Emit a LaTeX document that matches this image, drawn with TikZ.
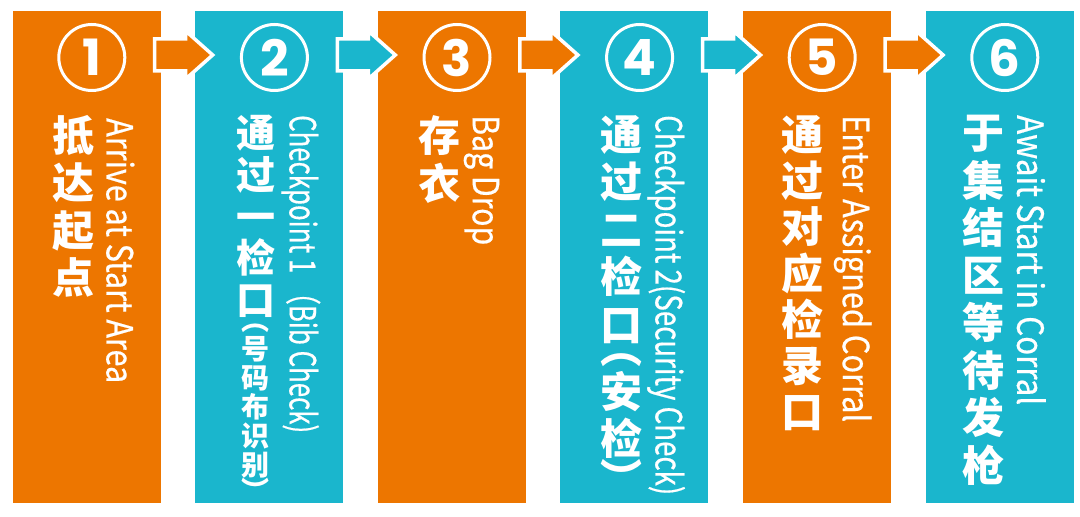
\documentclass[tikz,border=0pt]{standalone}
\usepackage{fontspec}
\newfontfamily\zhfont{Noto Sans CJK SC}
\newfontfamily\enfont{Noto Sans CJK SC}[FakeBold=0.6]
\newfontfamily\numfont{Poppins}
\definecolor{runorange}{RGB}{237,118,0}
\definecolor{runcyan}{RGB}{26,182,205}
% english line squeezed to the length it has in the chart
\newcommand\engline[2]{\resizebox{#1}{\height}{#2}}

\begin{document}
\begin{tikzpicture}[x=1pt, y=1pt,
        stepbox/.style={minimum width=148pt, minimum height=492pt, inner sep=0pt, anchor=north west},
        stepcircle/.style={circle, draw=white, line width=3pt, minimum size=66pt, inner sep=0pt,
          text=white, font=\numfont\bfseries\fontsize{50}{50}\selectfont},
        stepflow/.style={draw=white, line width=3.5pt, line join=miter},
        zhstack/.style={align=center, inner sep=0pt, anchor=north, text=white,
          font=\zhfont\bfseries\fontsize{42}{#1}\selectfont},
        zhstack/.default=47.5,
        zhsmall/.style={align=center, inner sep=0pt, anchor=north, text=white,
          font=\zhfont\bfseries\fontsize{28}{29}\selectfont},
        engtext/.style={rotate=-90, anchor=west, inner sep=0pt, text=white,
          font=\enfont\fontsize{36}{36}\selectfont}
        ]
        \useasboundingbox (0,0) rectangle (1080,517);
        % columns
        \foreach \i/\col in {1/runorange,2/runcyan,3/runorange,4/runcyan,5/runorange,6/runcyan}
          \node [stepbox, fill=\col] (col\i) at ({12.3+182.6*(\i-1)},506) {};
        % arrows between the columns
        \foreach \i/\col in {1/runorange,2/runcyan,3/runorange,4/runcyan,5/runorange} {
          \coordinate (out\i) at ([yshift=-44pt]col\i.north east);
          \draw [stepflow, fill=\col] (out\i) ++(-6,16) -- ++(31,0) -- ++(0,8) -- ++(27,-24)
            -- ++(-27,-24) -- ++(0,8) -- ++(-31,0) -- cycle;
        }
        % numbers
        \foreach \i in {1,...,6}
          \node [stepcircle] (num\i) at ([shift={(79.5,-46.5)}]col\i.north west) {\i};
        % texts
        \node [zhstack] (zh1) at ([shift={(61,-104)}]col1.north west) {抵\\达\\起\\点};
        \node [engtext] (en1) at ([shift={(108,-107)}]col1.north west) {\engline{265pt}{Arrive at Start Area}};
        \node [zhstack=41.7, font=\zhfont\bfseries\fontsize{39}{41.7}\selectfont] (zh2) at ([shift={(61,-104)}]col2.north west) {通\\过\\一\\检\\口};
        \node [zhsmall] (zh2b) at ([shift={(61,-313)}]col2.north west) {︵\\号\\码\\布\\识\\别\\[-3pt]︶};
        \node [engtext] (en2) at ([shift={(106,-104)}]col2.north west) {\engline{318pt}{Checkpoint 1 （Bib Check)}};
        \node [zhstack=48] (zh3) at ([shift={(62,-104)}]col3.north west) {存\\衣};
        \node [engtext] (en3) at ([shift={(104,-104)}]col3.north west) {\engline{130pt}{Bag Drop}};
        \node [zhstack] (zh4) at ([shift={(61,-104)}]col4.north west) {通\\过\\二\\检\\口\\[-24pt]︵\\[-4pt]安\\检\\[-8pt]︶};
        \node [engtext] (en4) at ([shift={(106,-104)}]col4.north west) {\engline{380pt}{Checkpoint 2(Security Check)}};
        \node [zhstack=46.3] (zh5) at ([shift={(60,-104)}]col5.north west) {通\\过\\对\\应\\检\\录\\口};
        \node [engtext] (en5) at ([shift={(110,-104)}]col5.north west) {\engline{307pt}{Enter Assigned Corral}};
        \node [zhstack] (zh6) at ([shift={(58,-104)}]col6.north west) {于\\集\\结\\区\\等\\待\\发\\枪};
        \node [engtext] (en6) at ([shift={(106,-104)}]col6.north west) {\engline{290pt}{Await Start in Corral}};
\end{tikzpicture}
\end{document}
